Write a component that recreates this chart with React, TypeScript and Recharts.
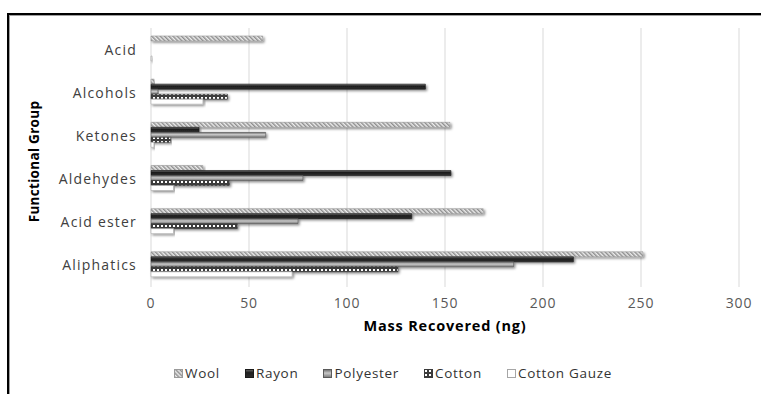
import React from "react";
import {
  Bar,
  BarChart,
  CartesianGrid,
  Label,
  Legend,
  XAxis,
  YAxis,
} from "recharts";

const categories = ["Acid", "Alcohols", "Ketones", "Aldehydes", "Acid ester", "Aliphatics"];
const wool = [57, 1.5, 152.5, 26.5, 169.5, 251];
const rayon = [0, 140, 24.5, 153, 133, 215.5];
const polyester = [0, 3.5, 58.5, 77.5, 75, 185];
const cotton = [0, 39, 10, 40, 44, 126];
const gauze = [0.5, 26.5, 1.5, 11.5, 11.5, 72];
const xTicks = [0, 50, 100, 150, 200, 250, 300];

const series = [
  { key: "Wool", fill: "url(#pWool)", stroke: "#9a9a9a" },
  { key: "Rayon", fill: "url(#gRayon)", stroke: "#1a1a1a" },
  { key: "Polyester", fill: "url(#gPoly)", stroke: "#5a5a5a" },
  { key: "Cotton", fill: "url(#pCotton)", stroke: "#3a3a3a" },
  { key: "Cotton Gauze", fill: "#ffffff", stroke: "#a6a6a6" },
];

const data = categories.map((name, i) => ({
  name,
  Wool: wool[i],
  Rayon: rayon[i],
  Polyester: polyester[i],
  Cotton: cotton[i],
  "Cotton Gauze": gauze[i],
}));

const font = "'Open Sans', 'DejaVu Sans', sans-serif";

function YTitle(props: any) {
  const vb = props.viewBox || {};
  const cy = vb.y + vb.height / 2 + 4;
  return (
    <text
      x={39}
      y={cy}
      transform={`rotate(-90 39 ${cy})`}
      textAnchor="middle"
      fontFamily={font}
      fontSize={13.5}
      fontWeight={700}
      letterSpacing={0.3}
      fill="#000"
    >
      Functional Group
    </text>
  );
}

function LegendBox() {
  return (
    <div style={{ display: "flex", fontFamily: font, fontSize: 13.5, letterSpacing: 0.7, color: "#333" }}>
      {series.map((s) => (
        <div key={s.key} style={{ display: "flex", alignItems: "center", marginRight: 25 }}>
          <svg width={9} height={9} style={{ marginRight: 2 }}>
            <rect x={0.5} y={0.5} width={8} height={8} fill={s.fill} stroke={s.stroke} />
          </svg>
          <span>{s.key}</span>
        </div>
      ))}
    </div>
  );
}

export default function App() {
  return (
    <div style={{ position: "absolute", left: 0, top: 0, width: 761, height: 394, background: "#fff" }}>
      <div
        style={{
          position: "absolute",
          left: 7,
          top: 13,
          width: 760,
          height: 390,
          borderLeft: "2px solid #000",
          borderTop: "2px solid #000",
          boxShadow: "inset 1px 1px 0 #a0a0a0",
        }}
      />
      <BarChart
        width={761}
        height={394}
        data={data}
        layout="vertical"
        margin={{ top: 28, right: 22, bottom: 57, left: 0 }}
        barCategoryGap={8}
        barGap={0}
        style={{ position: "absolute", left: 0, top: 0 }}
      >
        <defs>
          <pattern id="pWool" width="3" height="3" patternUnits="userSpaceOnUse" patternTransform="rotate(-45)">
            <rect width="3" height="3" fill="#ededed" />
            <rect width="1.5" height="3" fill="#8f8f8f" />
          </pattern>
          <pattern id="pCotton" width="4" height="4" patternUnits="userSpaceOnUse">
            <rect width="4" height="4" fill="#3c3c3c" />
            <rect x="1" y="1" width="2" height="2" fill="#ffffff" />
          </pattern>
          <linearGradient id="gRayon" x1="0" y1="0" x2="0" y2="1">
            <stop offset="0" stopColor="#6a6a6a" />
            <stop offset="0.4" stopColor="#1e1e1e" />
            <stop offset="1" stopColor="#2e2e2e" />
          </linearGradient>
          <linearGradient id="gPoly" x1="0" y1="0" x2="0" y2="1">
            <stop offset="0" stopColor="#6a6a6a" />
            <stop offset="0.45" stopColor="#c8c8c8" />
            <stop offset="1" stopColor="#777777" />
          </linearGradient>
          <filter id="shadow" x="-5%" y="-50%" width="110%" height="250%">
            <feDropShadow dx="1.5" dy="1.5" stdDeviation="0.8" floodColor="#000" floodOpacity="0.45" />
          </filter>
        </defs>
        <CartesianGrid horizontal={false} stroke="#d9d9d9" />
        <XAxis
          type="number"
          domain={[0, 300]}
          ticks={xTicks}
          axisLine={false}
          tickLine={false}
          tickSize={0}
          tickMargin={11}
          height={50}
          tick={{ fontFamily: font, fontSize: 14, letterSpacing: 0.8, fill: "#595959" }}
        >
          <Label
            value="Mass Recovered (ng)"
            position="insideBottom"
            offset={6}
            style={{ fontFamily: font, fontSize: 14.5, fontWeight: 700, letterSpacing: 0.8, fill: "#000" }}
          />
        </XAxis>
        <YAxis
          type="category"
          dataKey="name"
          width={151}
          axisLine={false}
          tickLine={false}
          tickSize={0}
          tickMargin={14}
          interval={0}
          tick={{ fontFamily: font, fontSize: 14, letterSpacing: 1.2, fill: "#404040" }}
        >
          <Label content={<YTitle />} />
        </YAxis>
        {series.map((s) => (
          <Bar
            key={s.key}
            dataKey={s.key}
            fill={s.fill}
            stroke={s.stroke}
            strokeWidth={0.6}
            filter="url(#shadow)"
            isAnimationActive={false}
          />
        ))}
        <Legend
          layout="horizontal"
          verticalAlign="middle"
          align="center"
          content={<LegendBox />}
          wrapperStyle={{ left: 174, top: 364, width: "auto" }}
        />
      </BarChart>
    </div>
  );
}
